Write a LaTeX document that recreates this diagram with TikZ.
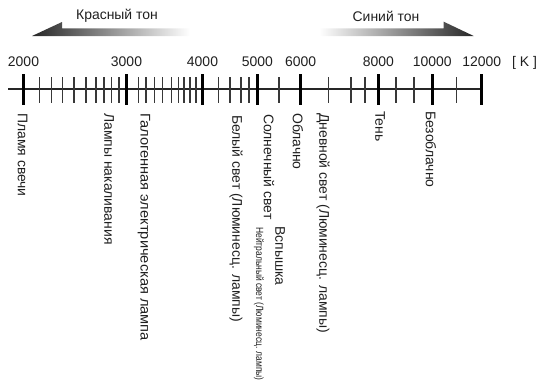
\documentclass[tikz,border=0pt]{standalone}
\usepackage{fontspec}
\setmainfont{Liberation Sans}
\usetikzlibrary{shadings}
\tikzset{
  lbl/.style={font=\fontsize{14}{16}\selectfont, text=black!88, inner sep=0pt},
  vlbl/.style={lbl, rotate=-90, anchor=west},
  num/.style={lbl, anchor=base},
  majortick/.style={line width=3bp, black},
  minortick/.style={line width=1.3bp, black!78},
  axisline/.style={line width=2bp, black!85},
}
\begin{document}
\begin{tikzpicture}[x=1bp,y=-1bp]
\useasboundingbox (0,0) rectangle (544,381);
% tone arrows
\path[left color=black!85, right color=white, shading=axis]
  (32,36) -- (62,22) -- (62,28.3) -- (190,28.3) -- (190,36) -- cycle;
\path[left color=white, right color=black!85, shading=axis]
  (319,28.3) -- (443.7,28.3) -- (443.7,21.7) -- (473.7,36) -- (319,36) -- cycle;
\node[lbl] (red) at (117,16) {Красный тон};
\node[lbl] (blue) at (386,16) {Синий тон};
% axis
\coordinate (a0) at (8,89.3);
\coordinate (a1) at (482,89.3);
\draw[axisline] (a0) -- (a1);
\foreach \x in {39.3,51.7,62.7,74,86,96,104,111.7,119,
                138.3,146,154.3,162.7,171.7,178.3,184,190,196,
                218.3,230,241,249,279,328.3,351,365,396,414,456.7}
  \draw[minortick] (\x,77) -- (\x,103);
\foreach \x/\t in {23.5/2000,126.5/3000,202.5/4000,257.3/5000,300.7/6000,378.3/8000,432.3/10000,481.7/12000}{
  \draw[majortick] (\x,74) -- (\x,105);
  \node[num] (n\t) at (\x,66) {\t};
}
\node[num] (unit) at (524.5,66) {[ K ]};
% vertical labels
\node[vlbl] (l1) at (22.5,113) {Пламя свечи};
\node[vlbl] (l2) at (109,113) {Лампы накаливания};
\node[vlbl] (l3) at (144,113) {\scalebox{1.05}[1]{Галогенная электрическая лампа}};
\node[vlbl] (l4) at (236,115) {Белый свет (Люминесц. лампы)};
\node[vlbl] (l5) at (269,114) {Солнечный свет};
\node[vlbl] (l6) at (280,226) {Вспышка};
\node[vlbl, font=\fontsize{10.5}{12}\selectfont] (l7) at (259,227) {\scalebox{0.81}[1]{Нейтральный свет (Люминесц. лампы)}};
\node[vlbl] (l8) at (298,113) {Облачно};
\node[vlbl] (l9) at (323,113) {Дневной свет (Люминесц. лампы)};
\node[vlbl] (l10) at (380,111) {Тень};
\node[vlbl] (l11) at (431,111) {Безоблачно};
\end{tikzpicture}
\end{document}
